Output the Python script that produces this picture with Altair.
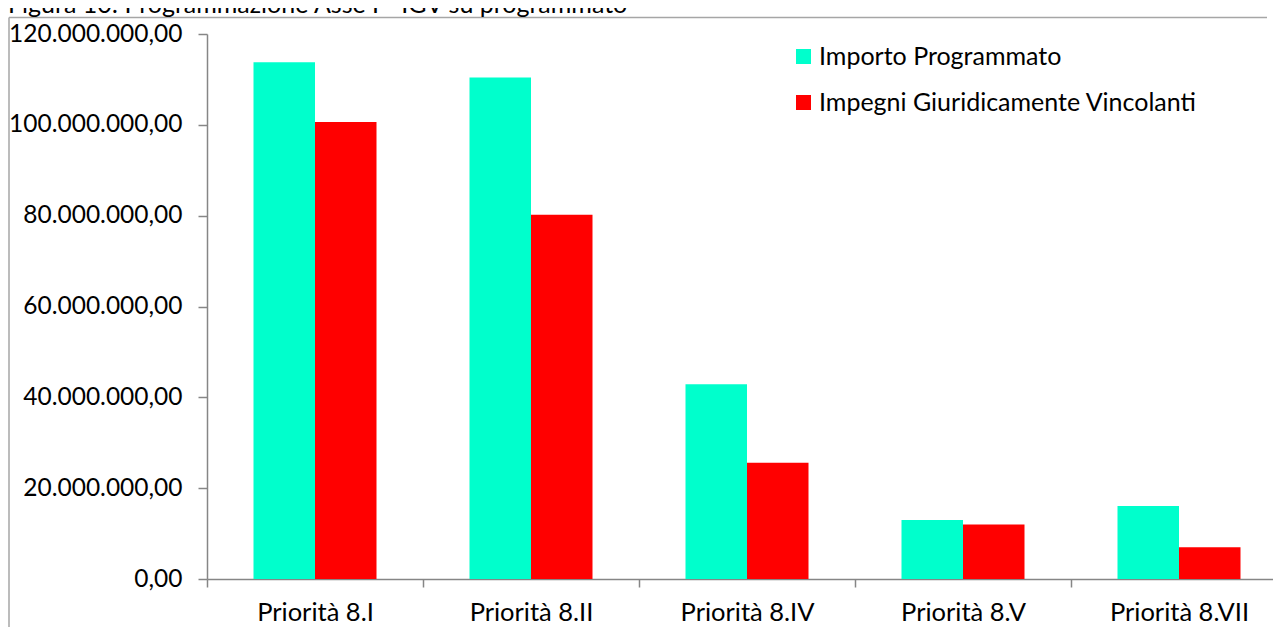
import altair as alt
import pandas as pd

TITLE = "Figura 10: Programmazione Asse I - IGV su programmato"
categories = ["Priorità 8.I", "Priorità 8.II", "Priorità 8.IV", "Priorità 8.V", "Priorità 8.VII"]
series = ["Importo Programmato", "Impegni Giuridicamente Vincolanti"]
importo = [113.8e6, 110.4e6, 42.9e6, 13.0e6, 16.1e6]
impegni = [100.6e6, 80.2e6, 25.6e6, 12.0e6, 7.0e6]
y_ticks = [0, 20e6, 40e6, 60e6, 80e6, 100e6, 120e6]
colors = ["#00FFCC", "#FF0000"]

rows = []
for c, a, b in zip(categories, importo, impegni):
    rows.append({"categoria": c, "serie": series[0], "valore": a})
    rows.append({"categoria": c, "serie": series[1], "valore": b})
df = pd.DataFrame(rows)

FONT = "Lato"

bars = alt.Chart(df).mark_bar().encode(
    x=alt.X("categoria:N", sort=categories,
            scale=alt.Scale(range=[0, 1080], paddingInner=0, paddingOuter=0),
            axis=alt.Axis(title=None, labelAngle=0, tickBand="extent", tickSize=8,
                          labelPadding=33, labelBaseline="alphabetic",
                          labelFont=FONT, labelFontSize=25.5,
                          labelColor="black", domainColor="#868686", tickColor="#868686",
                          domainWidth=1.5, tickWidth=1.5)),
    xOffset=alt.XOffset("serie:N", sort=series,
                        scale=alt.Scale(paddingInner=0, paddingOuter=0.756)),
    y=alt.Y("valore:Q", scale=alt.Scale(domain=[0, 120e6], nice=False),
            axis=alt.Axis(title=None, values=y_ticks, grid=False, tickSize=9,
                          labelPadding=16, labelFont=FONT, labelFontSize=24.5,
                          labelColor="black", domainColor="#868686", tickColor="#868686",
                          domainWidth=1.5, tickWidth=1.5,
                          labelExpr="datum.value == 0 ? '0,00' : format(datum.value / 1000000, 'd') + '.000.000,00'")),
    color=alt.Color("serie:N", sort=series,
                    scale=alt.Scale(domain=series, range=colors),
                    legend=alt.Legend(title=None, orient="none", legendX=584, legendY=10,
                                      symbolType="square", symbolSize=225, symbolStrokeWidth=0,
                                      labelFont=FONT, labelFontSize=25, labelColor="black",
                                      labelOffset=3, rowPadding=20, labelLimit=0)),
)

one = alt.Data(values=[{"k": 1}])
frame_left = alt.Chart(one).mark_rule(color="#a6a6a6", strokeWidth=1.5).encode(
    x=alt.value(-198), x2=alt.value(-198), y=alt.value(-16.5), y2=alt.value(600))
frame_top = alt.Chart(one).mark_rule(color="#a6a6a6", strokeWidth=1.5).encode(
    x=alt.value(-198), x2=alt.value(1060), y=alt.value(-16.5), y2=alt.value(-16.5))
title = alt.Chart(one).mark_text(text=TITLE, align="left", baseline="alphabetic",
                                 font=FONT, fontSize=25, color="black").encode(
    x=alt.value(-199), y=alt.value(-21))

chart = alt.layer(bars, frame_left, frame_top, title).properties(
    width=1066, height=545,
    autosize=alt.AutoSizeParams(type="none"),
    padding={"left": 199, "top": 26, "right": 0, "bottom": 52},
).configure_view(strokeWidth=0)

chart.save("out.html", embed_options={"renderer": "svg", "actions": False})
